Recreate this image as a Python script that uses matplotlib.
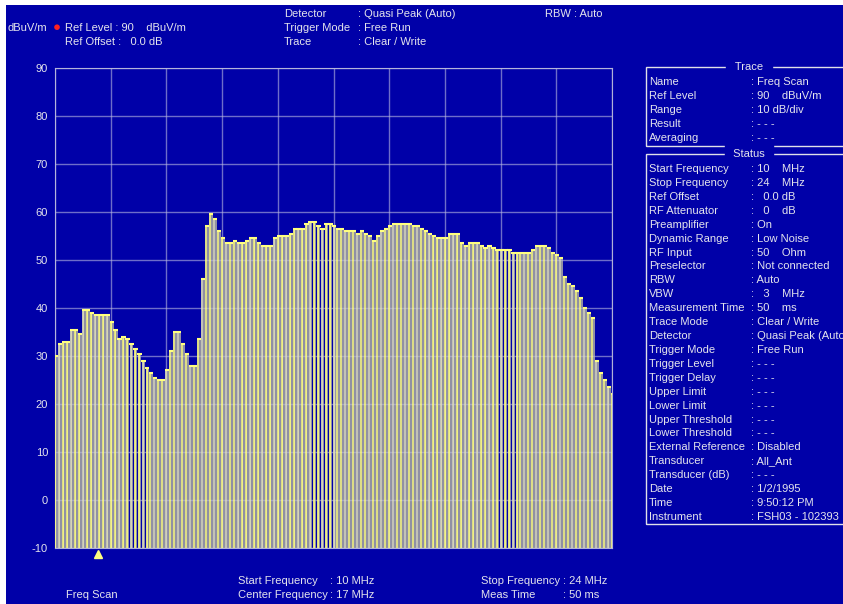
import matplotlib.pyplot as plt
import numpy as np
from matplotlib.patches import Rectangle

# Frequency scan, 10 - 24 MHz in 0.1 MHz steps
freq = np.round(np.arange(100, 241) / 10.0, 1)
level = [30, 32.5, 33, 33, 35.5, 35.5, 34.5, 39.5, 39.5, 39,
         38.5, 38.5, 38.5, 38.5, 37, 35.5, 33.5, 34, 33.5, 32.5,
         31.5, 30.5, 29, 27.5, 26.5, 25.5, 25, 25, 27, 31,
         35, 35, 32.5, 30.5, 28, 28, 33.5, 46, 57, 59.5,
         58.5, 56, 54.5, 53.5, 53.5, 54, 53.5, 53.5, 54, 54.5,
         54.5, 53.5, 53, 53, 53, 54.5, 55, 55, 55, 55.5,
         56.5, 56.5, 56.5, 57.5, 58, 58, 57, 56.5, 57.5, 57.5,
         57, 56.5, 56.5, 56, 56, 56, 55.5, 56, 55.5, 55,
         54, 55, 56, 56.5, 57, 57.5, 57.5, 57.5, 57.5, 57.5,
         57, 57, 56.5, 56, 55.5, 55, 54.5, 54.5, 54.5, 55.5,
         55.5, 55.5, 53.5, 53, 53.5, 53.5, 53.5, 53, 52.5, 53,
         52.5, 52, 52, 52, 52, 51.5, 51.5, 51.5, 51.5, 51.5,
         52, 53, 53, 53, 52.5, 51.5, 51, 50.5, 46.5, 45,
         44.5, 43.5, 42, 40, 39, 38, 29, 26.5, 25, 23.5, 22]
yticks = [90, 80, 70, 60, 50, 40, 30, 20, 10, 0, -10]
marker_freq = 11.08

header_left = ["Detector", "Trigger Mode", "Trace"]
header_right = [": Quasi Peak (Auto)", ": Free Run", ": Clear / Write"]

trace_labels = ["Name", "Ref Level", "Range", "Result", "Averaging"]
trace_values = [": Freq Scan", ": 90    dBuV/m", ": 10 dB/div", ": - - -", ": - - -"]

status_labels = ["Start Frequency", "Stop Frequency", "Ref Offset", "RF Attenuator",
                 "Preamplifier", "Dynamic Range", "RF Input", "Preselector", "RBW",
                 "VBW", "Measurement Time", "Trace Mode", "Detector", "Trigger Mode",
                 "Trigger Level", "Trigger Delay", "Upper Limit", "Lower Limit",
                 "Upper Threshold", "Lower Threshold", "External Reference",
                 "Transducer", "Transducer (dB)", "Date", "Time", "Instrument"]
status_values = [": 10    MHz", ": 24    MHz", ":   0.0 dB", ":   0    dB", ": On",
                 ": Low Noise", ": 50    Ohm", ": Not connected", ": Auto",
                 ":   3    MHz", ": 50    ms", ": Clear / Write", ": Quasi Peak (Auto)",
                 ": Free Run", ": - - -", ": - - -", ": - - -", ": - - -", ": - - -",
                 ": - - -", ": Disabled", ": All_Ant", ": - - -", ": 1/2/1995",
                 ": 9:50:12 PM", ": FSH03 - 102393"]

BLUE = '#0000a8'
TXT = '#e4e4ec'
YEL = '#ffff80'
GRAY = '#9090a4'
W, H = 843, 604

plt.rcParams['font.family'] = ['Liberation Sans', 'DejaVu Sans']
fig = plt.figure(figsize=(W / 100, H / 100), dpi=100, facecolor=BLUE)

# white strips at top and left, like the screenshot
fig.patches.append(Rectangle((0, 1 - 5 / H), 1, 5 / H, transform=fig.transFigure,
                             facecolor='white', edgecolor='none', zorder=-1))
fig.patches.append(Rectangle((0, 0), 6 / W, 1, transform=fig.transFigure,
                             facecolor='white', edgecolor='none', zorder=-1))


def txt(x, y, s, **kw):
    fig.text(x / W, 1 - y / H, s, color=TXT, fontsize=8, va='center', **kw)


ax = fig.add_axes([55 / W, (H - 548) / H, (612 - 55) / W, (548 - 68) / H])
ax.set_facecolor(BLUE)
ax.set_xlim(10, 24)
ax.set_ylim(-10, 90)
ax.set_xticks(np.linspace(10, 24, 11))
ax.set_xticklabels([])
ax.set_yticks(yticks)
ax.set_yticklabels([str(t) for t in yticks], color=TXT, fontsize=8)
ax.tick_params(length=0, pad=5)
ax.grid(True, color='#b8b8e0', linewidth=1, alpha=0.6, zorder=6)
ax.set_axisbelow(False)
for s in ax.spines.values():
    s.set_color('#b0b0d8')

lv = np.array(level)
ax.bar(freq + 0.012, lv + 10, bottom=-10, width=0.06, align='edge',
       color=GRAY, edgecolor='none', zorder=2)
cols = [YEL if i % 3 != 1 else '#e0e0b8' for i in range(len(freq))]
ax.vlines(freq, -10, lv, colors=cols, linewidth=1.25, zorder=3)
ax.hlines(lv, freq - 0.03, freq + 0.075, colors=YEL, linewidth=1.5, zorder=4)
ax.plot([marker_freq], [-11.3], marker='^', color=YEL, markersize=6,
        clip_on=False, zorder=7)

# header
txt(8, 28, "dBuV/m")
fig.text(57 / W, 1 - 28.5 / H, "\u25cf", color='#ff2020', fontsize=9.5, va='center', ha='center')
txt(65, 28, "Ref Level : 90    dBuV/m")
txt(65, 42, "Ref Offset :   0.0 dB")
for i in range(3):
    txt(284, 14 + 14 * i, header_left[i])
    txt(358, 14 + 14 * i, header_right[i])
txt(545, 14, "RBW : Auto")

# footer
txt(66, 595, "Freq Scan")
txt(238, 581, "Start Frequency")
txt(330, 581, ": 10 MHz")
txt(238, 595, "Center Frequency")
txt(330, 595, ": 17 MHz")
txt(481, 581, "Stop Frequency")
txt(563, 581, ": 24 MHz")
txt(481, 595, "Meas Time")
txt(563, 595, ": 50 ms")


def box(y0, y1, title):
    fig.patches.append(Rectangle((646 / W, 1 - y1 / H), (W + 5 - 646) / W, (y1 - y0) / H,
                                 transform=fig.transFigure, facecolor='none',
                                 edgecolor='#e0e0e8', linewidth=1))
    fig.text(749 / W, 1 - y0 / H, " " + title + " ", color=TXT, fontsize=8,
             ha='center', va='center', backgroundcolor=BLUE)


box(67, 146, "Trace")
for i in range(len(trace_labels)):
    txt(649, 82 + 14 * i, trace_labels[i])
    txt(751, 82 + 14 * i, trace_values[i])

box(154, 524, "Status")
for i in range(len(status_labels)):
    txt(649, 169 + 13.92 * i, status_labels[i])
    txt(751, 169 + 13.92 * i, status_values[i])

fig.savefig("out.png", dpi=100, facecolor=fig.get_facecolor())
